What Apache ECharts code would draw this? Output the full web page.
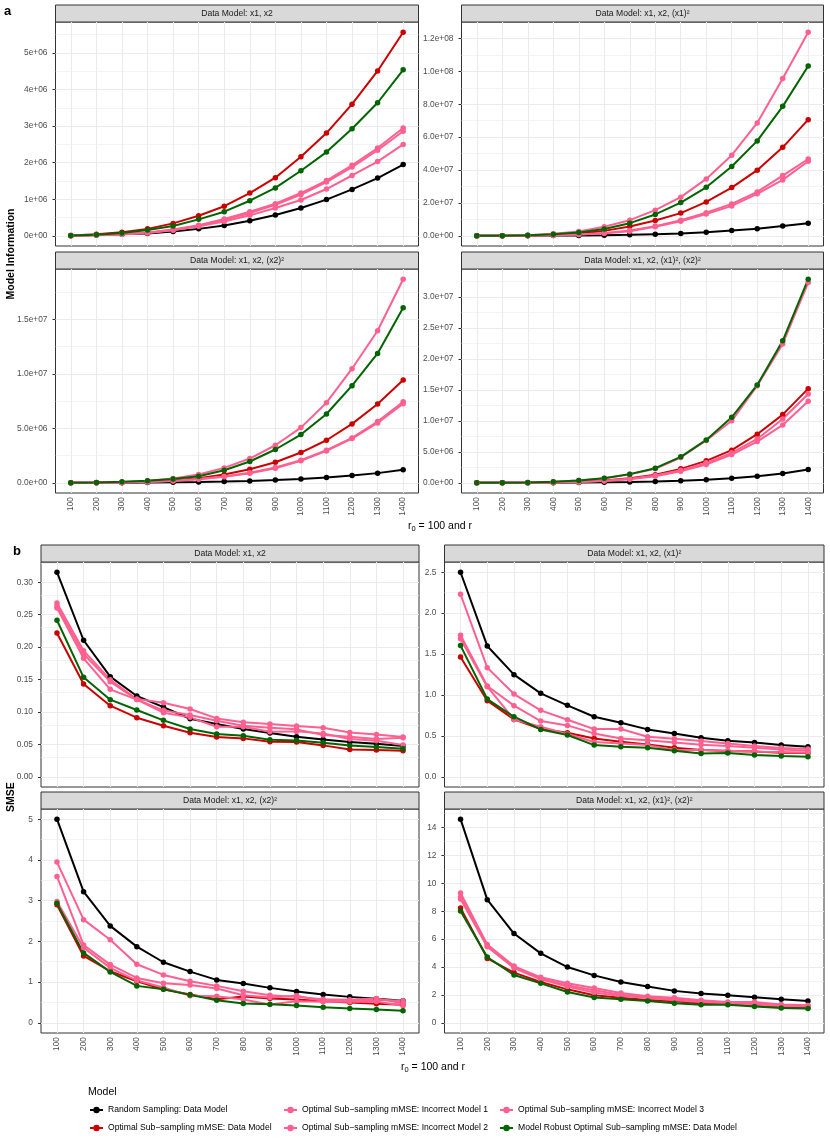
<!DOCTYPE html>
<html>
<head>
<meta charset="utf-8">
<title>Model Information and SMSE</title>
<script src="https://cdn.jsdelivr.net/npm/echarts@6/dist/echarts.min.js"></script>
<style>
  html, body { margin: 0; padding: 0; background: #fff; }
  #chart { width: 830px; height: 1142px; }
</style>
</head>
<body>
<div id="chart"></div>
<script>
// x axis: r (with r0 = 100)
var rValues = [100, 200, 300, 400, 500, 600, 700, 800, 900, 1000, 1100, 1200, 1300, 1400];

var panelTitles = ['Data Model: x1, x2', 'Data Model: x1, x2, (x1)²', 'Data Model: x1, x2, (x2)²', 'Data Model: x1, x2, (x1)², (x2)²'];

var modelNames = [
  'Random Sampling: Data Model',
  'Optimal Sub\u2212sampling mMSE: Data Model',
  'Optimal Sub\u2212sampling mMSE: Incorrect Model 1',
  'Optimal Sub\u2212sampling mMSE: Incorrect Model 2',
  'Optimal Sub\u2212sampling mMSE: Incorrect Model 3',
  'Model Robust Optimal Sub\u2212sampling mMSE: Data Model'
];
var modelColors = ['#000000', '#cc0000', '#ff6090', '#ff6090', '#ff6090', '#006400'];

// ---- a: model information, one row per panel ----
var infoRandom = [
  [5e3, 2e4, 4e4, 6e4, 1.2e5, 1.9e5, 2.8e5, 4.1e5, 5.7e5, 7.6e5, 9.9e5, 1.27e6, 1.58e6, 1.95e6],
  [1e4, 3e4, 8e4, 1.5e5, 2.5e5, 4e5, 6e5, 1.0e6, 1.4e6, 2.2e6, 3.2e6, 4.25e6, 5.9e6, 7.7e6],
  [2e3, 5e3, 1.2e4, 2.5e4, 4.5e4, 7e4, 1.1e5, 1.7e5, 2.5e5, 3.5e5, 4.9e5, 6.7e5, 8.9e5, 1.19e6],
  [2e3, 6e3, 1.5e4, 3e4, 5e4, 9e4, 1.4e5, 2.2e5, 3.5e5, 5e5, 7.5e5, 1.07e6, 1.5e6, 2.15e6]
];
var infoOptimal = [
  [1e4, 4e4, 1e5, 1.9e5, 3.4e5, 5.5e5, 8.1e5, 1.17e6, 1.59e6, 2.16e6, 2.81e6, 3.6e6, 4.51e6, 5.57e6],
  [1e3, 5e4, 2e5, 6e5, 1.4e6, 3.0e6, 5.7e6, 9.3e6, 1.38e7, 2.06e7, 2.93e7, 3.99e7, 5.38e7, 7.06e7],
  [1e3, 1e4, 4e4, 9e4, 2.1e5, 4.3e5, 7.6e5, 1.25e6, 1.89e6, 2.78e6, 3.91e6, 5.41e6, 7.24e6, 9.44e6],
  [1e3, 1e4, 3e4, 7e4, 1.6e5, 3.8e5, 7.5e5, 1.29e6, 2.25e6, 3.54e6, 5.26e6, 7.84e6, 1.10e7, 1.519e7]
];
var infoIncorrect1 = [
  [5e3, 2e4, 5e4, 9e4, 1.7e5, 2.9e5, 4.6e5, 6.6e5, 8.8e5, 1.17e6, 1.51e6, 1.93e6, 2.40e6, 2.95e6],
  [1e3, 1e5, 4e5, 1.2e6, 2.6e6, 5.5e6, 9.5e6, 1.56e7, 2.35e7, 3.46e7, 4.90e7, 6.86e7, 9.57e7, 1.238e8],
  [1e3, 2e4, 6e4, 1.8e5, 4e5, 7.6e5, 1.37e6, 2.23e6, 3.45e6, 5.07e6, 7.36e6, 1.048e7, 1.396e7, 1.87e7],
  [1e3, 3e4, 7e4, 1.6e5, 3.7e5, 7.4e5, 1.38e6, 2.25e6, 4.08e6, 6.82e6, 1.0e7, 1.567e7, 2.24e7, 3.23e7]
];
var infoIncorrect2 = [
  [5e3, 2e4, 4.5e4, 8.5e4, 1.6e5, 2.7e5, 4.3e5, 6.2e5, 8.5e5, 1.13e6, 1.47e6, 1.88e6, 2.34e6, 2.86e6],
  [1e3, 5e4, 2e5, 4e5, 8e5, 1.6e6, 3.2e6, 5.9e6, 9.5e6, 1.40e7, 1.94e7, 2.67e7, 3.66e7, 4.67e7],
  [1e3, 1e4, 4e4, 9e4, 1.8e5, 3.4e5, 5.8e5, 9.2e5, 1.41e6, 2.08e6, 2.99e6, 4.12e6, 5.62e6, 7.45e6],
  [1e3, 1e4, 2e4, 6e4, 1.4e5, 3.2e5, 6.4e5, 1.18e6, 2.04e6, 3.22e6, 4.83e6, 7.08e6, 1.03e7, 1.433e7]
];
var infoIncorrect3 = [
  [5e3, 1.5e4, 4e4, 8e4, 1.5e5, 2.6e5, 3.9e5, 5.6e5, 7.6e5, 9.8e5, 1.28e6, 1.65e6, 2.03e6, 2.50e6],
  [1e3, 5e4, 2e5, 4e5, 7.5e5, 1.5e6, 2.8e6, 5.5e6, 8.9e6, 1.32e7, 1.82e7, 2.55e7, 3.40e7, 4.53e7],
  [1e3, 1e4, 4e4, 8.5e4, 1.7e5, 3.2e5, 5.5e5, 8.8e5, 1.34e6, 2.02e6, 2.93e6, 4.06e6, 5.5e6, 7.27e6],
  [1e3, 1e4, 2e4, 5e4, 1.2e5, 2.9e5, 5.8e5, 1.07e6, 1.88e6, 2.95e6, 4.56e6, 6.65e6, 9.34e6, 1.315e7]
];
var infoRobust = [
  [1e4, 3e4, 8e4, 1.6e5, 2.7e5, 4.5e5, 6.6e5, 9.6e5, 1.31e6, 1.78e6, 2.29e6, 2.93e6, 3.64e6, 4.54e6],
  [1e3, 1e5, 4e5, 1.0e6, 2.0e6, 4.2e6, 7.7e6, 1.30e7, 2.02e7, 2.95e7, 4.21e7, 5.77e7, 7.87e7, 1.032e8],
  [1e4, 3e4, 9e4, 1.8e5, 3.4e5, 6.1e5, 1.16e6, 1.96e6, 3.06e6, 4.43e6, 6.32e6, 8.92e6, 1.188e7, 1.607e7],
  [1e4, 3e4, 7e4, 1.6e5, 3.8e5, 7.5e5, 1.4e6, 2.36e6, 4.19e6, 6.92e6, 1.057e7, 1.578e7, 2.29e7, 3.284e7]
];

// ---- b: SMSE, one row per panel ----
var smseRandom = [
  [0.3154, 0.2105, 0.1544, 0.1245, 0.1075, 0.0895, 0.0813, 0.0736, 0.0674, 0.0617, 0.0576, 0.0535, 0.0509, 0.0473],
  [2.50, 1.599, 1.248, 1.02, 0.873, 0.734, 0.661, 0.579, 0.53, 0.477, 0.44, 0.42, 0.387, 0.367],
  [5.0, 3.22, 2.38, 1.87, 1.487, 1.258, 1.054, 0.964, 0.858, 0.768, 0.694, 0.637, 0.588, 0.539],
  [14.6, 8.83, 6.4, 4.98, 4.0, 3.4, 2.93, 2.6, 2.29, 2.1, 1.98, 1.83, 1.69, 1.57]
];
var smseOptimal = [
  [0.2218, 0.143, 0.1096, 0.0911, 0.0787, 0.0679, 0.0612, 0.0592, 0.054, 0.0535, 0.0484, 0.0422, 0.0412, 0.0401],
  [1.464, 0.93, 0.701, 0.583, 0.538, 0.469, 0.428, 0.396, 0.355, 0.326, 0.314, 0.31, 0.294, 0.29],
  [2.9, 1.642, 1.266, 1.021, 0.825, 0.694, 0.58, 0.645, 0.596, 0.572, 0.531, 0.498, 0.466, 0.441],
  [8.24, 4.62, 3.6, 2.93, 2.4, 1.98, 1.79, 1.64, 1.55, 1.38, 1.33, 1.24, 1.14, 1.1]
];
var smseIncorrect1 = [
  [0.268, 0.1945, 0.1497, 0.12, 0.1142, 0.1045, 0.09, 0.0839, 0.0813, 0.0782, 0.0756, 0.0684, 0.0653, 0.0612],
  [2.231, 1.334, 1.011, 0.812, 0.697, 0.583, 0.583, 0.489, 0.465, 0.436, 0.408, 0.375, 0.351, 0.338],
  [3.946, 2.533, 2.04, 1.438, 1.176, 1.021, 0.907, 0.776, 0.678, 0.637, 0.58, 0.564, 0.596, 0.482],
  [9.31, 5.62, 4.07, 3.26, 2.83, 2.5, 2.14, 1.9, 1.79, 1.62, 1.5, 1.5, 1.31, 1.26]
];
var smseIncorrect2 = [
  [0.2635, 0.1894, 0.1467, 0.119, 0.1024, 0.0952, 0.0864, 0.0787, 0.0756, 0.0731, 0.0643, 0.0617, 0.0581, 0.0602],
  [1.729, 1.109, 0.869, 0.681, 0.628, 0.53, 0.469, 0.445, 0.42, 0.392, 0.375, 0.355, 0.334, 0.318],
  [3.595, 1.912, 1.43, 1.103, 0.972, 0.931, 0.842, 0.678, 0.621, 0.662, 0.539, 0.539, 0.564, 0.539],
  [9.02, 5.5, 4.02, 3.17, 2.69, 2.33, 2.02, 1.86, 1.69, 1.55, 1.45, 1.38, 1.26, 1.21]
];
var smseIncorrect3 = [
  [0.2604, 0.1827, 0.1348, 0.119, 0.0988, 0.0916, 0.0772, 0.0772, 0.0695, 0.07, 0.0668, 0.0581, 0.0556, 0.0489],
  [1.688, 1.101, 0.701, 0.612, 0.522, 0.424, 0.408, 0.387, 0.326, 0.326, 0.318, 0.306, 0.302, 0.294],
  [2.98, 1.846, 1.348, 1.038, 0.866, 0.662, 0.654, 0.572, 0.449, 0.531, 0.515, 0.515, 0.523, 0.417],
  [8.88, 5.45, 3.93, 3.12, 2.6, 2.17, 1.93, 1.79, 1.62, 1.5, 1.4, 1.31, 1.21, 1.17]
];
var smseRobust = [
  [0.2413, 0.1533, 0.1189, 0.1029, 0.087, 0.0736, 0.0659, 0.0633, 0.0571, 0.0561, 0.0525, 0.0484, 0.0458, 0.0432],
  [1.603, 0.95, 0.734, 0.579, 0.51, 0.387, 0.367, 0.355, 0.318, 0.285, 0.29, 0.265, 0.253, 0.245],
  [2.933, 1.716, 1.25, 0.907, 0.825, 0.686, 0.556, 0.474, 0.458, 0.425, 0.384, 0.351, 0.327, 0.294],
  [8.02, 4.71, 3.43, 2.83, 2.21, 1.81, 1.69, 1.57, 1.4, 1.29, 1.29, 1.17, 1.07, 1.02]
];

// ---- y tick values and labels per panel ----
var infoTicks = [
  [0, 1e6, 2e6, 3e6, 4e6, 5e6],
  [0, 2e7, 4e7, 6e7, 8e7, 1e8, 1.2e8],
  [0, 5e6, 1e7, 1.5e7],
  [0, 5e6, 1e7, 1.5e7, 2e7, 2.5e7, 3e7]
];
var infoTickLabels = [
  ['0e+00', '1e+06', '2e+06', '3e+06', '4e+06', '5e+06'],
  ['0.0e+00', '2.0e+07', '4.0e+07', '6.0e+07', '8.0e+07', '1.0e+08', '1.2e+08'],
  ['0.0e+00', '5.0e+06', '1.0e+07', '1.5e+07'],
  ['0.0e+00', '5.0e+06', '1.0e+07', '1.5e+07', '2.0e+07', '2.5e+07', '3.0e+07']
];
var smseTicks = [
  [0, 0.05, 0.1, 0.15, 0.2, 0.25, 0.3],
  [0, 0.5, 1, 1.5, 2, 2.5],
  [0, 1, 2, 3, 4, 5],
  [0, 2, 4, 6, 8, 10, 12, 14]
];
var smseTickLabels = [
  ['0.00', '0.05', '0.10', '0.15', '0.20', '0.25', '0.30'],
  ['0.0', '0.5', '1.0', '1.5', '2.0', '2.5'],
  ['0', '1', '2', '3', '4', '5'],
  ['0', '2', '4', '6', '8', '10', '12', '14']
];

var FONT = '"Liberation Sans", Arial, sans-serif';

// panel boxes: [left, top, width, height]
var boxesA = [[55.5, 22, 363, 224], [461.5, 22, 362, 224], [55.5, 269, 363, 224], [461.5, 269, 362, 224]];
var boxesB = [[41, 562, 378, 225], [444.5, 562, 379.5, 225], [41, 809, 378, 224], [444.5, 809, 379.5, 224]];

var grids = [], xAxes = [], yAxes = [], series = [], graphics = [];

function addBlock(boxes, modelData, ticks, tickLabels) {
  for (var p = 0; p < 4; p++) {
    var idx = grids.length;
    var b = boxes[p];
    var bottomRow = p >= 2;
    grids.push({
      left: b[0], top: b[1], width: b[2], height: b[3],
      show: true, borderColor: '#333333', borderWidth: 1, backgroundColor: '#fff',
      outerBoundsMode: 'none'
    });

    // ggplot style expansion: 0.6 of a category step on x, 5% on y
    var step = rValues[1] - rValues[0];
    var lo = 0, hi = -Infinity;
    modelData.forEach(function (m) {
      m[p].forEach(function (v) { lo = Math.min(lo, v); hi = Math.max(hi, v); });
    });
    var pad = (hi - lo) * 0.05;
    var yMin = lo - pad, yMax = hi + pad;

    xAxes.push({
      type: 'value', gridIndex: idx, min: rValues[0] - 0.6 * step, max: rValues[rValues.length - 1] + 0.6 * step,
      show: bottomRow,
      axisLine: { show: false },
      splitLine: { show: false },
      axisTick: { show: true, length: 3, customValues: rValues, lineStyle: { color: '#333333', width: 1 } },
      axisLabel: {
        show: true, customValues: rValues, rotate: 90, margin: 4,
        fontSize: 8.4, color: '#4d4d4d', fontFamily: FONT,
        formatter: function (v) { return String(v); }
      }
    });

    var tk = ticks[p], tl = tickLabels[p];
    yAxes.push({
      type: 'value', gridIndex: idx, min: yMin, max: yMax,
      axisLine: { show: false },
      splitLine: { show: false },
      axisTick: { show: true, length: 3, customValues: tk, lineStyle: { color: '#333333', width: 1 } },
      axisLabel: {
        customValues: tk, margin: 8, fontSize: 8.4, color: '#4d4d4d', fontFamily: FONT,
        formatter: (function (tk, tl) {
          return function (v) {
            for (var i = 0; i < tk.length; i++) {
              if (Math.abs(tk[i] - v) < 1e-9 * Math.max(1, Math.abs(v))) return tl[i];
            }
            return '';
          };
        })(tk, tl)
      }
    });

    // grid lines (major + minor on y, major on x)
    var tStep = tk[1] - tk[0];
    var minors = [];
    for (var i = -1; i < tk.length; i++) {
      var mv = tk[0] + (i + 0.5) * tStep;
      if (mv > yMin && mv < yMax) minors.push(mv);
    }
    var gridLines = [];
    minors.forEach(function (v) { gridLines.push({ yAxis: v, lineStyle: { color: '#ebebeb', width: 0.6, type: 'solid' } }); });
    tk.forEach(function (v) { gridLines.push({ yAxis: v, lineStyle: { color: '#ebebeb', width: 1.1, type: 'solid' } }); });
    rValues.forEach(function (v) { gridLines.push({ xAxis: v, lineStyle: { color: '#ebebeb', width: 1.1, type: 'solid' } }); });

    modelData.forEach(function (m, k) {
      var s = {
        type: 'line', name: modelNames[k], xAxisIndex: idx, yAxisIndex: idx,
        data: rValues.map(function (r, j) { return [r, m[p][j]]; }),
        symbol: 'circle', symbolSize: 5.5, showSymbol: true,
        lineStyle: { width: 2, color: modelColors[k] },
        itemStyle: { color: modelColors[k] },
        emphasis: { disabled: true },
        animation: false, silent: true
      };
      if (k === 0) {
        s.markLine = {
          silent: true, symbol: 'none', z: 1, animation: false,
          label: { show: false }, emphasis: { disabled: true },
          data: gridLines
        };
      }
      series.push(s);
    });

    // facet strip
    graphics.push({
      type: 'rect', silent: true,
      shape: { x: b[0], y: b[1] - 17, width: b[2], height: 17 },
      style: { fill: '#d9d9d9', stroke: '#333333', lineWidth: 1 }
    });
    graphics.push({
      type: 'text', silent: true,
      style: {
        text: panelTitles[p], x: b[0] + b[2] / 2, y: b[1] - 8.5,
        align: 'center', verticalAlign: 'middle', fontSize: 8.6, fill: '#1a1a1a', fontFamily: FONT
      }
    });
  }
}

addBlock(boxesA, [infoRandom, infoOptimal, infoIncorrect1, infoIncorrect2, infoIncorrect3, infoRobust], infoTicks, infoTickLabels);
addBlock(boxesB, [smseRandom, smseOptimal, smseIncorrect1, smseIncorrect2, smseIncorrect3, smseRobust], smseTicks, smseTickLabels);

function textEl(txt, x, y, opts) {
  var st = { text: txt, x: x, y: y, align: 'center', verticalAlign: 'middle', fontFamily: FONT, fill: '#000' };
  for (var k in opts) st[k] = opts[k];
  return { type: 'text', silent: true, style: st };
}

// panel tags, axis titles, legend title
graphics.push(textEl('a', 4, 11, { align: 'left', fontSize: 13, fontWeight: 'bold' }));
graphics.push(textEl('b', 13, 551, { align: 'left', fontSize: 13, fontWeight: 'bold' }));
var yt1 = textEl('Model Information', 0, 0, { fontSize: 10.5, fontWeight: 'bold' });
yt1.x = 11; yt1.y = 254; yt1.rotation = Math.PI / 2;
graphics.push(yt1);
var yt2 = textEl('SMSE', 0, 0, { fontSize: 10.5, fontWeight: 'bold' });
yt2.x = 11; yt2.y = 797; yt2.rotation = Math.PI / 2;
graphics.push(yt2);

var xTitleRich = {
  m: { fontSize: 10.5, fontFamily: FONT, color: '#000', lineHeight: 14 },
  s: { fontSize: 7.5, fontFamily: FONT, color: '#000', padding: [6, 0, 0, 0], lineHeight: 14 }
};
graphics.push(textEl('{m|r}{s|0}{m| = 100 and r}', 440, 526, { rich: xTitleRich }));
graphics.push(textEl('{m|r}{s|0}{m| = 100 and r}', 433, 1067, { rich: xTitleRich }));
graphics.push(textEl('Model', 88, 1092, { align: 'left', fontSize: 10.5 }));

var legendBase = {
  orient: 'vertical', padding: 0, itemGap: 8, itemWidth: 13, itemHeight: 8,
  selectedMode: false,
  textStyle: { fontSize: 8.6, color: '#000', fontFamily: FONT, lineHeight: 10 }
};
function legendAt(left, names) {
  var l = { left: left, top: 1105, data: names };
  for (var k in legendBase) l[k] = legendBase[k];
  return l;
}

var chart = echarts.init(document.getElementById('chart'), null, { renderer: 'canvas' });
chart.setOption({
  backgroundColor: '#fff',
  animation: false,
  grid: grids,
  xAxis: xAxes,
  yAxis: yAxes,
  series: series,
  legend: [
    legendAt(89, [modelNames[0], modelNames[1]]),
    legendAt(283, [modelNames[2], modelNames[3]]),
    legendAt(499, [modelNames[4], modelNames[5]])
  ],
  graphic: graphics
});
</script>
</body>
</html>
